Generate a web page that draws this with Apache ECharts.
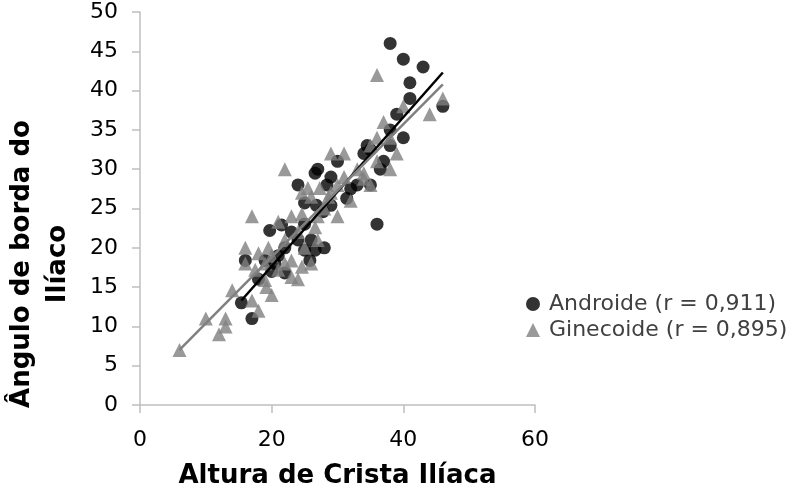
<!DOCTYPE html>
<html>
<head>
<meta charset="utf-8">
<script src="https://cdn.jsdelivr.net/npm/echarts@6/dist/echarts.min.js"></script>
<style>
html,body{margin:0;padding:0;background:#fff;}
#chart{width:800px;height:490px;}
</style>
</head>
<body>
<div id="chart"></div>
<script>
const androide = [
  [38,46],[40,44],[43,43],[41,41],[41,39],[46,38],[39,37],[40,34],[38,33],[34.5,33],
  [34,32],[35,32.5],[37,31],[36.5,30],[30,31],[27,30],[29,29],[24,28],[28.4,28],[32,27.5],
  [35,28],[26.8,25.4],[29,25.4],[27.8,24.6],[31.4,26.3],[36,23],[26.6,29.5],[25,25.7],[19.7,22.2],[21.5,22.9],
  [16,18.4],[25.8,18.4],[25,19.7],[20.5,18],[22,16.8],[15.4,13],[26.6,19.7],[19,18.4],[17,11],[22,20],
  [24,21],[26,21],[23,22],[20,17],[18,16],[28,20],[33,28],[38,35],[25,23],[21,19]
];
const ginecoide = [
  [36,42],[46,39],[44,37],[40,38],[37,36],[36,34],[39,32],[38,30],[36,31],[34,29.5],
  [35,28],[32,26],[29,32],[31,32],[25.5,27.6],[31,29],[28.6,26.5],[27.3,27.6],[34,28.8],[22,30],
  [17,24],[16,20],[21,23.3],[23,24],[24.6,27],[26,26.5],[24.6,24.3],[26.6,22.6],[18,19.3],[19.5,20],
  [23,18.4],[24.6,17.6],[17.5,17.2],[19,15.9],[21,17.2],[23,16.3],[14,14.6],[19.2,15],[24,16],[6,7],
  [10,11],[12,9],[13,11],[13,10],[17,13.3],[18,12],[16,18],[20,19],[22,21],[25,20],
  [24,22],[27,24],[28,25],[29,27],[30,28],[33,30],[35,33],[38,34],[27,21],[26,18],
  [20,14],[22,18],[19,18],[30,24]
];
const androideTrend = [[15.4,13.3],[46,42.3]];
const ginecoideTrend = [[6,7],[46,40.8]];
const xTicks = [0,20,40,60];
const yTicks = [0,5,10,15,20,25,30,35,40,45,50];
const seriesNames = ['Androide (r = 0,911)','Ginecoide (r = 0,895)'];
const xTitle = 'Altura de Crista Ilíaca';
const yTitle = 'Ângulo de borda do\nIlíaco';

const FONT = '"DejaVu Sans", sans-serif';
const chart = echarts.init(document.getElementById('chart'));
const axisLine = {show:true, lineStyle:{color:'#bfbfbf', width:1.5}};
chart.setOption({
  animation:false,
  backgroundColor:'#fff',
  textStyle:{fontFamily:FONT},
  grid:{left:140, right:265, top:12, bottom:85, containLabel:false, outerBoundsMode:'none'},
  xAxis:{
    type:'value', min:xTicks[0], max:xTicks[xTicks.length-1], interval:20,
    axisLine:axisLine, axisTick:{show:true, length:8, lineStyle:{color:'#bfbfbf', width:1.5}},
    splitLine:{show:false},
    axisLabel:{fontSize:22, color:'#000', margin:24, fontFamily:FONT},
    name:xTitle, nameLocation:'middle', nameGap:58,
    nameTextStyle:{fontSize:26, fontWeight:'bold', color:'#000', fontFamily:FONT}
  },
  yAxis:{
    type:'value', min:yTicks[0], max:yTicks[yTicks.length-1], interval:5,
    axisLine:axisLine, axisTick:{show:true, length:8, lineStyle:{color:'#bfbfbf', width:1.5}},
    splitLine:{show:false},
    axisLabel:{fontSize:22, color:'#000', margin:22, fontFamily:FONT}
  },
  legend:{
    orient:'vertical', left:521, top:288, itemGap:4, itemWidth:14, itemHeight:14,
    data:[{name:seriesNames[0], icon:'circle'},{name:seriesNames[1], icon:'triangle'}],
    textStyle:{fontSize:22, color:'#404040', fontFamily:FONT, padding:[0,0,0,4]}
  },
  graphic:[{
    type:'text', x:40, y:264, rotation:Math.PI/2,
    style:{text:yTitle, fill:'#000', font:'bold 26px '+FONT, textAlign:'center', textVerticalAlign:'middle', lineHeight:36}
  }],
  series:[
    {name:seriesNames[0], type:'scatter', data:androide, symbol:'circle', symbolSize:13,
     itemStyle:{color:'#000'}, z:2},
    {name:seriesNames[1], type:'scatter', data:ginecoide, symbol:'triangle', symbolSize:14,
     itemStyle:{color:'#808080'}, z:3},
    {name:'trendA', type:'line', data:androideTrend, symbol:'none', lineStyle:{color:'#000', width:2.5}, z:4, silent:true},
    {name:'trendG', type:'line', data:ginecoideTrend, symbol:'none', lineStyle:{color:'#808080', width:2.5}, z:4, silent:true}
  ]
});
</script>
</body>
</html>
